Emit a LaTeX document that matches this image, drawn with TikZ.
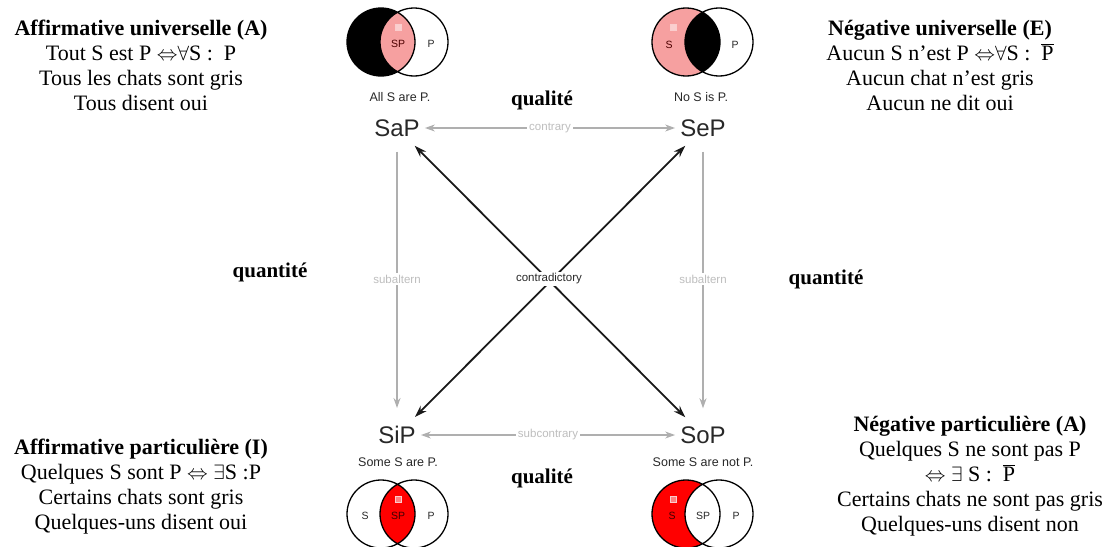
\documentclass[tikz,border=0pt]{standalone}
\usepackage{fontspec}
\setmainfont{Liberation Serif}
\newfontfamily\arialf{Liberation Sans}
\usetikzlibrary{arrows.meta}
\definecolor{pinkfill}{RGB}{246,160,160}
\definecolor{redfill}{RGB}{255,0,0}
\definecolor{arrowgray}{RGB}{175,175,175}
\definecolor{labelgray}{RGB}{190,190,190}
\definecolor{darktext}{RGB}{40,40,40}
\definecolor{markerpink}{RGB}{250,205,205}
\begin{document}
\begin{tikzpicture}[x=1pt,y=-1pt,
  block/.style={align=center, font=\fontsize{22}{25}\selectfont, inner sep=0pt},
  boldlab/.style={font=\fontsize{21}{24}\selectfont\bfseries, inner sep=0pt},
  term/.style={font=\arialf\fontsize{24}{26}\selectfont, text=darktext, inner sep=2pt},
  caption/.style={font=\arialf\fontsize{12.5}{14}\selectfont, text=darktext, inner sep=0pt},
  rel/.style={font=\arialf\fontsize{11.5}{13}\selectfont, text=labelgray, fill=white, inner sep=2pt},
  vlab/.style={font=\arialf\fontsize{10.5}{12}\selectfont, inner sep=0pt},
  venn/.style={draw=black, line width=1.3pt},
  marker/.style={draw=markerpink, line width=1pt, fill=white, fill opacity=0.5},
  grayboth/.style={draw=arrowgray, line width=1.5pt, {Stealth[length=10pt,width=7pt]}-{Stealth[length=10pt,width=7pt]}},
  graydown/.style={draw=arrowgray, line width=1.5pt, -{Stealth[length=10pt,width=7pt]}},
  blackboth/.style={draw=black!90, line width=1.8pt, {Stealth[length=12pt,width=8pt]}-{Stealth[length=12pt,width=8pt]}}
]
\useasboundingbox (0,0) rectangle (1110,546);
\clip (0,0) rectangle (1110,546);

% ---------- Venn diagrams ----------
% All S are P
\fill[black] (381,42) circle[radius=34pt];
\begin{scope}\clip (381,42) circle[radius=34pt]; \fill[pinkfill] (414,42) circle[radius=34pt];\end{scope}
\draw[venn] (381,42) circle[radius=34pt] (414,42) circle[radius=34pt];
\draw[marker] (395,24) rectangle (401,30);
\node[vlab, text=black!70!red] (tlsp) at (398,44) {SP};
\node[vlab, text=darktext] (tlp) at (431,44) {P};
% No S is P
\fill[pinkfill] (686,42) circle[radius=34pt];
\begin{scope}\clip (686,42) circle[radius=34pt]; \fill[black] (719,42) circle[radius=34pt];\end{scope}
\draw[venn] (686,42) circle[radius=34pt] (719,42) circle[radius=34pt];
\draw[marker] (670,24) rectangle (676,30);
\node[vlab, text=black!70!red] (trs) at (669,45) {S};
\node[vlab, text=darktext] (trp) at (735,45) {P};
% Some S are P
\begin{scope}\clip (381,514) circle[radius=34pt]; \fill[redfill] (414,514) circle[radius=34pt];\end{scope}
\draw[venn] (381,514) circle[radius=34pt] (414,514) circle[radius=34pt];
\draw[marker] (395,496) rectangle (401,502);
\node[vlab, text=darktext] (bls) at (365,516) {S};
\node[vlab, text=black!75!red] (blsp) at (398,516) {SP};
\node[vlab, text=darktext] (blp) at (431,516) {P};
% Some S are not P
\fill[redfill] (686,514) circle[radius=34pt];
\begin{scope}\clip (686,514) circle[radius=34pt]; \fill[white] (719,514) circle[radius=34pt];\end{scope}
\draw[venn] (686,514) circle[radius=34pt] (719,514) circle[radius=34pt];
\draw[marker] (670,496) rectangle (676,502);
\node[vlab, text=black!75!red] (brs) at (672,516) {S};
\node[vlab, text=darktext] (brsp) at (703,516) {SP};
\node[vlab, text=darktext] (brp) at (736,516) {P};

% ---------- captions ----------
\node[caption] (capa) at (400,97) {All S are P.};
\node[caption] (cape) at (701,97) {No S is P.};
\node[caption] (capi) at (398,462) {Some S are P.};
\node[caption] (capo) at (703,462) {Some S are not P.};

% ---------- square of opposition ----------
\node[term] (sap) at (397,128) {SaP};
\node[term] (sep) at (703,128) {SeP};
\node[term] (sip) at (397,435) {SiP};
\node[term] (sop) at (703,435) {SoP};

\draw[grayboth, shorten <=3pt, shorten >=3pt] (sap) -- node[rel] (contrary) {contrary} (sep);
\draw[grayboth, shorten <=3pt, shorten >=3pt] (sip) -- node[rel] (subcontrary) {subcontrary} (sop);
\draw[graydown, shorten <=13pt, shorten >=16pt] (sap) -- (sip);
\draw[graydown, shorten <=13pt, shorten >=16pt] (sep) -- (sop);
\node[rel] (suba) at (397,279) {subaltern};
\node[rel] (subb) at (703,279) {subaltern};
\draw[blackboth, shorten <=10pt, shorten >=10pt] (sap) -- (sop);
\draw[blackboth, shorten <=10pt, shorten >=10pt] (sep) -- (sip);
\node[rel, text=darktext] (contra) at (549,279) {contradictory};

% ---------- bold labels ----------
\node[boldlab] (qual1) at (542,100) {qualité};
\node[boldlab] (qual2) at (542,478) {qualité};
\node[boldlab] (quan1) at (270,272) {quantité};
\node[boldlab] (quan2) at (826,279) {quantité};

% ---------- text blocks ----------
\node[block] (tl) at (141,65) {\textbf{Affirmative universelle (A)}\\ Tout S est P $\mathord{\Leftrightarrow}\forall$S :\ \ P\\ Tous les chats sont gris\\ Tous disent oui};
\node[block] (tr) at (940,65) {\textbf{Négative universelle (E)}\\ Aucun S n’est P $\mathord{\Leftrightarrow}\forall$S :\ \ $\overline{\hbox{P}}$\\ Aucun chat n’est gris\\ Aucun ne dit oui};
\node[block] (bl) at (141,487) {\textbf{Affirmative particulière (I)}\\ Quelques S sont P $\mathord{\Leftrightarrow}$ $\exists$S :P\\ Certains chats sont gris\\ Quelques-uns disent oui};
\node[block] (br) at (970,476) {\textbf{Négative particulière (A)}\\ Quelques S ne sont pas P\\ $\mathord{\Leftrightarrow}$ $\exists$ S :\ \ $\overline{\hbox{P}}$\\ Certains chats ne sont pas gris\\ Quelques-uns disent non};
\end{tikzpicture}
\end{document}
